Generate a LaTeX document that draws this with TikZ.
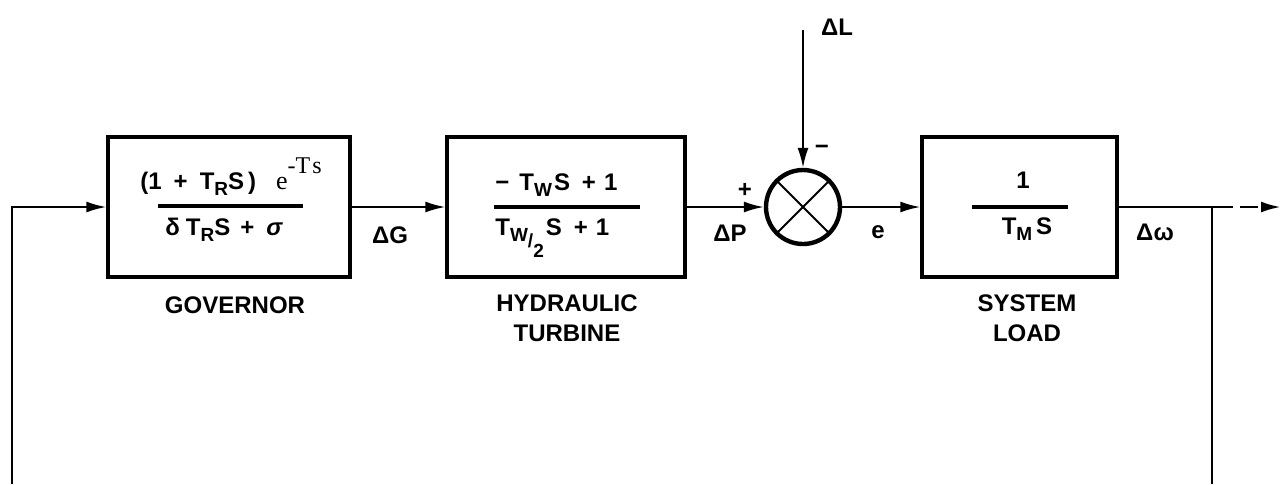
\documentclass[tikz,border=0pt]{standalone}
\usepackage{fontspec}
\setmainfont{Liberation Sans}
\newfontfamily\serfont{Liberation Serif}
\usepackage{tikz}
\usetikzlibrary{arrows.meta,positioning}
\newcommand{\lowsub}[1]{\raisebox{-3pt}{\fontsize{9.5}{9.5}\selectfont #1}}
\tikzset{
  blockbox/.style={draw, line width=1.7pt, minimum height=70pt, inner sep=0pt},
  sumnode/.style={circle, draw, line width=2.2pt, minimum size=37pt, inner sep=0pt},
  fracbar/.style={line width=1.8pt},
  term/.style={inner sep=0pt, font=\fontsize{12}{14}\selectfont\bfseries},
  caption/.style={inner sep=0pt, align=center, font=\fontsize{12}{15}\selectfont\bfseries},
  siglabel/.style={inner sep=0pt, font=\fontsize{12}{14}\selectfont\bfseries},
  wire/.style={line width=1pt},
  flow/.style={-{Latex[length=10pt,width=5.5pt]}, line width=1pt},
  dashflow/.style={-{Latex[length=10pt,width=5.5pt]}, line width=1.4pt, dash pattern=on 9pt off 3pt}
}

\begin{document}
\begin{tikzpicture}[x=0.5pt, y=-0.5pt]
\useasboundingbox (0,0) rectangle (1282,484);

% blocks
\node[blockbox, minimum width=121pt] (gov) at (229,207) {};
\node[blockbox, minimum width=119pt] (tur) at (566,207) {};
\node[sumnode] (sum) at (803,207) {};
\node[blockbox, minimum width=97.5pt] (sys) at (1019.5,207) {};
\draw[wire] (sum.north west) -- (sum.south east);
\draw[wire] (sum.north east) -- (sum.south west);

% transfer functions
\node[term, anchor=base west] (govnum) at (140,189)
  {(1\hspace{6pt}+\hspace{6pt}T\lowsub{R}S\hspace{2pt})\hspace{10pt}{\serfont\mdseries\fontsize{13}{13}\selectfont e\raisebox{8pt}{\fontsize{12}{12}\selectfont -T\hspace{1pt}s}}};
\draw[fracbar] (158,206) -- (303,206);
\node[term, anchor=base west] (govden) at (165,235)
  {δ\hspace{3pt}T\lowsub{R}S\hspace{5pt}+\hspace{6pt}\textit{σ}};

\node[term, anchor=base west] (turnum) at (495,190)
  {−\hspace{5pt}T\lowsub{W}\hspace{1pt}S\hspace{6pt}+\hspace{4pt}1};
\draw[fracbar] (494,207) -- (640,207);
\node[term, anchor=base west] (turden) at (495,235)
  {T\lowsub{W\raisebox{-3pt}{/}\raisebox{-8pt}{2}}\hspace{1pt}S\hspace{6pt}+\hspace{4pt}1};

\node[term, anchor=base] (sysnum) at (1023,188) {1};
\draw[fracbar] (972,207) -- (1068,207);
\node[term, anchor=base] (sysden) at (1027,234) {T\lowsub{M}\hspace{2pt}S};

% captions
\node[caption] (govlbl) at (235,305) {GOVERNOR};
\node[caption] (turlbl) at (567,318) {HYDRAULIC\\TURBINE};
\node[caption] (syslbl) at (1027,318) {SYSTEM\\LOAD};

% signals
\coordinate (fbl) at (12,484);
\coordinate (load) at (803,30);
\coordinate (brk) at (1233,207);
\coordinate (dsh) at (1240,207);
\coordinate (out) at (1281,207);
\coordinate (tap) at (1212,207);
\coordinate (fbr) at (1212,484);

\draw[flow] (fbl) |- (gov);
\draw[flow] (gov) -- (tur);
\draw[flow] (tur) -- (sum);
\draw[flow] (load) -- (sum);
\draw[flow] (sum) -- (sys);
\draw[line width=1.4pt] (sys) -- (brk);
\draw[dashflow] (dsh) -- (out);
\draw[line width=1.2pt] (tap) -- (fbr);

\node[siglabel] (dG) at (390,235) {ΔG};
\node[siglabel] (dP) at (730,233) {ΔP};
\node[siglabel] (plus) at (745,190) {+};
\node[siglabel] (minus) at (822,150) {−};
\node[siglabel] (dL) at (837,27) {ΔL};
\node[siglabel] (err) at (878,232) {e};
\node[siglabel] (dw) at (1155,232) {Δω};
\end{tikzpicture}
\end{document}
